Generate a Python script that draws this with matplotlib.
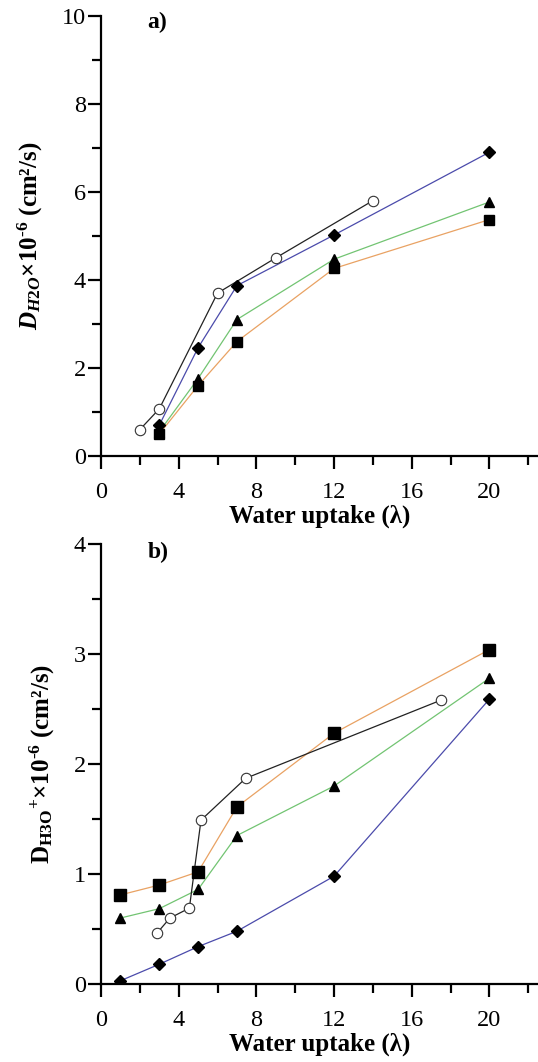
import matplotlib
matplotlib.use("Agg")
import matplotlib.pyplot as plt
from matplotlib.ticker import MultipleLocator

plt.rcParams['font.family'] = ['Liberation Serif', 'DejaVu Sans']
plt.rcParams['mathtext.fontset'] = 'custom'
plt.rcParams['mathtext.rm'] = 'Liberation Serif:bold'
plt.rcParams['mathtext.bf'] = 'Liberation Serif:bold'
plt.rcParams['mathtext.it'] = 'Liberation Serif:italic:bold'

# Panel a) water diffusion
a_circ_x = [2, 3, 6, 9, 14]
a_circ_y = [0.6, 1.07, 3.7, 4.5, 5.8]
a_dia_x = [3, 5, 7, 12, 20]
a_dia_y = [0.7, 2.46, 3.87, 5.02, 6.9]
a_tri_x = [3, 5, 7, 12, 20]
a_tri_y = [0.55, 1.76, 3.1, 4.47, 5.77]
a_sq_x = [3, 5, 7, 12, 20]
a_sq_y = [0.5, 1.6, 2.6, 4.26, 5.37]

# Panel b) hydronium diffusion
b_circ_x = [2.87, 3.55, 4.55, 5.15, 7.45, 17.5]
b_circ_y = [0.46, 0.6, 0.69, 1.49, 1.87, 2.58]
b_dia_x = [1, 3, 5, 7, 12, 20]
b_dia_y = [0.03, 0.18, 0.34, 0.48, 0.98, 2.59]
b_tri_x = [1, 3, 5, 7, 12, 20]
b_tri_y = [0.6, 0.685, 0.86, 1.35, 1.8, 2.78]
b_sq_x = [1, 3, 5, 7, 12, 20]
b_sq_y = [0.81, 0.9, 1.02, 1.61, 2.28, 3.04]

x_ticks = [0, 4, 8, 12, 16, 20]

BLUE = '#4b4bab'
GREEN = '#72c472'
ORANGE = '#e9a263'

fig = plt.figure(figsize=(5.38, 10.62), dpi=100)
ax1 = fig.add_axes([0.1877, 0.5706, 1 - 0.1877, 0.4146])
ax2 = fig.add_axes([0.1877, 0.0734, 1 - 0.1877, 0.4144])

def style(ax, ymax, ymaj, ymin):
    ax.set_xlim(0, 22.5)
    ax.set_ylim(0, ymax)
    for s in ['top', 'right']:
        ax.spines[s].set_visible(False)
    for s in ['left', 'bottom']:
        ax.spines[s].set_linewidth(1.6)
    ax.set_xticks(x_ticks)
    ax.xaxis.set_minor_locator(MultipleLocator(2))
    ax.yaxis.set_major_locator(MultipleLocator(ymaj))
    ax.yaxis.set_minor_locator(MultipleLocator(ymin))
    ax.tick_params(which='major', direction='out', length=9.5, width=1.6, labelsize=17.5)
    ax.tick_params(axis='x', which='major', pad=9)
    ax.tick_params(axis='y', which='major', pad=1.5)
    ax.tick_params(which='minor', direction='out', length=6.5, width=1.6)
    ax.set_xlabel('Water uptake (λ)', fontsize=18, fontweight='bold', labelpad=1)

def series(ax, x, y, color, marker, ms, filled=True):
    ax.plot(x, y, color=color, lw=0.9, zorder=2)
    if filled:
        ax.plot(x, y, linestyle='none', marker=marker, ms=ms, mfc='black', mec='black', zorder=3)
    else:
        ax.plot(x, y, linestyle='none', marker=marker, ms=ms, mfc='white', mec='#333333', mew=0.8, zorder=3)

SCALE = '×10$^{\\mathregular{‐6}}$ (cm²/s)'

style(ax1, 10, 2, 1)
series(ax1, a_sq_x, a_sq_y, ORANGE, 's', 7.5)
series(ax1, a_tri_x, a_tri_y, GREEN, '^', 7)
series(ax1, a_dia_x, a_dia_y, BLUE, 'D', 6)
series(ax1, a_circ_x, a_circ_y, '#222222', 'o', 7.5, filled=False)
ax1.set_ylabel(r'$D_{H2O}$' + SCALE, fontsize=18, fontweight='bold', labelpad=12)
ax1.text(2.4, 9.85, 'a)', fontsize=17, fontweight='bold', va='center')

style(ax2, 4, 1, 0.5)
series(ax2, b_sq_x, b_sq_y, ORANGE, 's', 8)
series(ax2, b_tri_x, b_tri_y, GREEN, '^', 7)
series(ax2, b_dia_x, b_dia_y, BLUE, 'D', 6)
series(ax2, b_circ_x, b_circ_y, '#222222', 'o', 7.5, filled=False)
ax2.set_ylabel(r'D$_{\mathregular{H3O}}$$^{+}$' + SCALE, fontsize=18, fontweight='bold', labelpad=12)
ax2.text(2.4, 3.92, 'b)', fontsize=17, fontweight='bold', va='center')

fig.savefig('out.png', dpi=100)
